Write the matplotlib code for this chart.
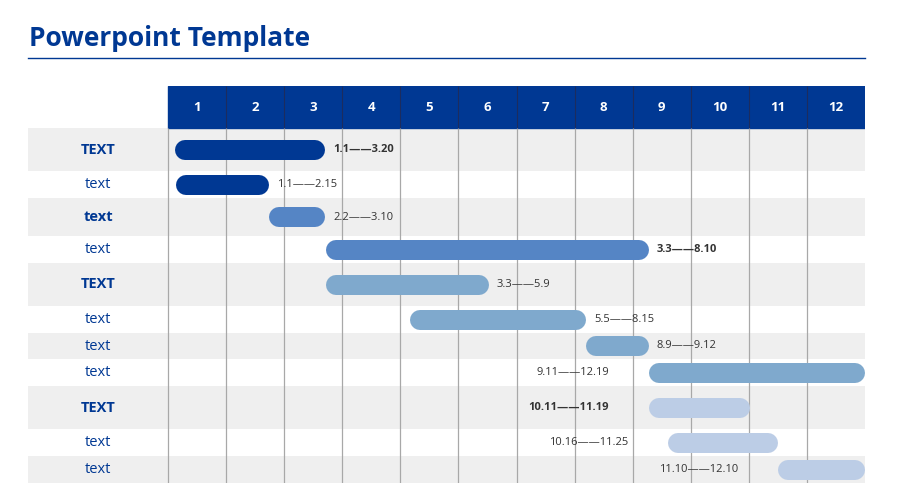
import matplotlib.pyplot as plt
from matplotlib.patches import Rectangle
from matplotlib.lines import Line2D

plt.rcParams['font.family'] = ['Open Sans', 'DejaVu Sans']

# data
months = [str(m) for m in range(1, 13)]
tasks = ['TEXT', 'text', 'text', 'text', 'TEXT', 'text', 'text', 'text', 'TEXT', 'text', 'text']
task_bold = [True, False, True, False, True, False, False, False, True, False, False]
starts = [0.12, 0.14, 1.74, 2.72, 2.72, 4.17, 7.20, 8.28, 8.28, 8.61, 10.50]
ends = [2.70, 1.74, 2.71, 8.28, 5.52, 7.20, 8.28, 12.0, 10.02, 10.50, 12.0]
ranges = ['1.1——3.20', '1.1——2.15', '2.2——3.10', '3.3——8.10', '3.3——5.9', '5.5——8.15',
          '8.9——9.12', '9.11——12.19', '10.11——11.19', '10.16——11.25', '11.10——12.10']
range_bold = [True, False, False, True, False, False, False, False, True, False, False]
range_side = ['right'] * 7 + ['left'] * 4
bar_colors = ['#003893', '#003893', '#5585c5', '#5585c5', '#7fa9cd', '#7fa9cd',
              '#7fa9cd', '#7fa9cd', '#bccde6', '#bccde6', '#bccde6']

# layout (pixels)
W, H = 898, 504
left_px, grid_px, right_px = 28, 168, 865
top_px, bot_px = 86, 483
header_h = 42
row_h = [43, 27, 38, 27, 43, 27, 26, 27, 43, 27, 27]
col_w = (right_px - grid_px) / 12
blue = '#003893'

fig = plt.figure(figsize=(W / 100, H / 100), dpi=100)
ax = fig.add_axes([left_px / W, 1 - bot_px / H, (right_px - left_px) / W, (bot_px - top_px) / H])
x0 = -(grid_px - left_px) / col_w
ax.set_xlim(x0, 12)
ax.set_ylim(bot_px - top_px, 0)
ax.axis('off')

# title
fig.text(29 / W, 1 - 46 / H, 'Powerpoint Template', fontsize=19, fontweight='bold',
         color=blue, va='baseline', ha='left')
fig.add_artist(Line2D([left_px / W, right_px / W], [1 - 58 / H] * 2, color=blue, lw=1))

# header
ax.add_patch(Rectangle((0, 0), 12, header_h, color=blue, zorder=1))
ax.vlines(range(1, 12), 0, header_h, color='#1c2c5e', lw=0.8, zorder=2)
for i, m in enumerate(months):
    ax.text(i + 0.5, header_h / 2, m, ha='center', va='center', color='white',
            fontsize=9.5, fontweight='bold', zorder=3)

# rows
y = header_h
centers = []
for i, h in enumerate(row_h):
    if i % 2 == 0:
        ax.add_patch(Rectangle((x0, y), 12 - x0, h, color='#efefef', lw=0, zorder=0))
    centers.append(y + h / 2)
    y += h
total = y

ax.vlines(range(0, 12), header_h, total, color='#a8a8a8', lw=0.9, zorder=2)

r = 10 / col_w
for i, yc in enumerate(centers):
    ax.text(x0 + (98 - left_px) / col_w, yc, tasks[i], ha='center', va='center', color=blue,
            fontsize=10.5, fontweight='bold' if task_bold[i] else 'normal')
    ax.plot([starts[i] + r, ends[i] - r], [yc, yc], lw=14.4, color=bar_colors[i],
            solid_capstyle='round', zorder=3)
    wt = 'bold' if range_bold[i] else 'normal'
    if range_side[i] == 'right':
        ax.text(ends[i] + 8 / col_w, yc, ranges[i], ha='left', va='center',
                fontsize=8, color='#333333', fontweight=wt, zorder=4)
    else:
        ax.text(starts[i] - 40 / col_w, yc, ranges[i], ha='right', va='center',
                fontsize=8, color='#333333', fontweight=wt, zorder=4)

fig.savefig('out.png', dpi=100)
